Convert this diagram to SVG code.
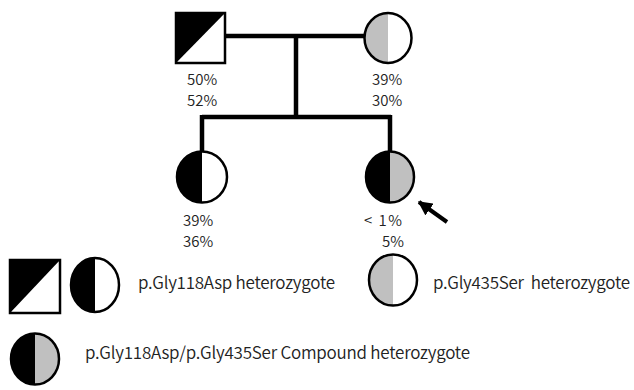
<svg xmlns="http://www.w3.org/2000/svg" width="634" height="390" viewBox="0 0 634 390">
  <style>
    .ln { fill: none; stroke: #000; stroke-width: 4.5; }
    .blk { fill: #000; stroke: none; }
    .gry { fill: #c0c0c0; stroke: none; }
    .wht { fill: #fff; }
    .ol { fill: none; stroke: #000; stroke-width: 2.5; }
    text { font-family: "Noto Sans CJK JP", "Noto Sans", sans-serif; font-size: 15px; font-weight: 350; fill: #222; }
    .lg { font-size: 17px; }
  </style>
  <defs>
    <clipPath id="leftHalf"><rect x="-40" y="-40" width="40" height="80"/></clipPath>
    <marker id="head" viewBox="0 0 10 10" refX="9" refY="5" markerWidth="3.6" markerHeight="3.6" orient="auto">
      <path d="M0,0 L10,5 L0,10 Z" fill="#000"/>
    </marker>
  </defs>

  <!-- connectors -->
  <g id="connectors">
    <path class="ln" d="M225,36 H364"/>
    <path class="ln" d="M296,36 V117"/>
    <path class="ln" d="M202,117 H391"/>
    <path class="ln" d="M202,115 V152"/>
    <path class="ln" d="M390,115 V152"/>
    <path d="M447,222 L419,202" stroke="#000" stroke-width="4" fill="none" marker-end="url(#head)"/>
  </g>

  <!-- father: p.Gly118Asp heterozygote -->
  <g id="father">
    <rect x="176" y="13" width="49" height="50" fill="#fff"/>
    <path class="blk" d="M176,13 H225 L176,63 Z"/>
    <rect class="ol" x="176" y="13" width="49" height="50"/>
    <text x="187" y="85">50%</text>
    <text x="187" y="106">52%</text>
  </g>

  <!-- mother: p.Gly435Ser heterozygote -->
  <g id="mother">
    <g transform="translate(388,38)">
      <ellipse rx="23.5" ry="25" class="wht"/>
      <ellipse rx="23.5" ry="25" class="gry" clip-path="url(#leftHalf)"/>
      <ellipse rx="23.5" ry="25" class="ol"/>
    </g>
    <text x="372" y="85">39%</text>
    <text x="372" y="106">30%</text>
  </g>

  <!-- daughter: p.Gly118Asp heterozygote -->
  <g id="child1">
    <g transform="translate(202,177)">
      <ellipse rx="25" ry="25.5" class="wht"/>
      <ellipse rx="25" ry="25.5" class="blk" clip-path="url(#leftHalf)"/>
      <ellipse rx="25" ry="25.5" class="ol"/>
    </g>
    <text x="183" y="226">39%</text>
    <text x="183" y="247">36%</text>
  </g>

  <!-- proband: compound heterozygote -->
  <g id="child2">
    <g transform="translate(390,177)">
      <ellipse rx="24" ry="25.5" class="gry"/>
      <ellipse rx="24" ry="25.5" class="blk" clip-path="url(#leftHalf)"/>
      <ellipse rx="24" ry="25.5" class="ol"/>
    </g>
    <text x="364" y="226" textLength="38" xml:space="preserve">&lt; 1%</text>
    <text x="382" y="247">5%</text>
  </g>

  <!-- legend -->
  <g id="legend-g118d">
    <rect x="10" y="260" width="50" height="53" fill="#fff"/>
    <path class="blk" d="M10,260 H60 L10,313 Z"/>
    <rect class="ol" x="10" y="260" width="50" height="53"/>
    <g transform="translate(95,285)">
      <ellipse rx="24" ry="27" class="wht"/>
      <ellipse rx="24" ry="27" class="blk" clip-path="url(#leftHalf)"/>
      <ellipse rx="24" ry="27" class="ol"/>
    </g>
    <text class="lg" x="138" y="289" textLength="197">p.Gly118Asp heterozygote</text>
  </g>

  <g id="legend-g435s">
    <g transform="translate(393,280)">
      <ellipse rx="24" ry="25.5" class="wht"/>
      <ellipse rx="24" ry="25.5" class="gry" clip-path="url(#leftHalf)"/>
      <ellipse rx="24" ry="25.5" class="ol"/>
    </g>
    <text class="lg" x="433" y="289" textLength="197" xml:space="preserve">p.Gly435Ser  heterozygote</text>
  </g>

  <g id="legend-compound">
    <g transform="translate(35,359)">
      <ellipse rx="24" ry="25.5" class="gry"/>
      <ellipse rx="24" ry="25.5" class="blk" clip-path="url(#leftHalf)"/>
      <ellipse rx="24" ry="25.5" class="ol"/>
    </g>
    <text class="lg" x="85" y="359" textLength="385">p.Gly118Asp/p.Gly435Ser Compound heterozygote</text>
  </g>
</svg>
